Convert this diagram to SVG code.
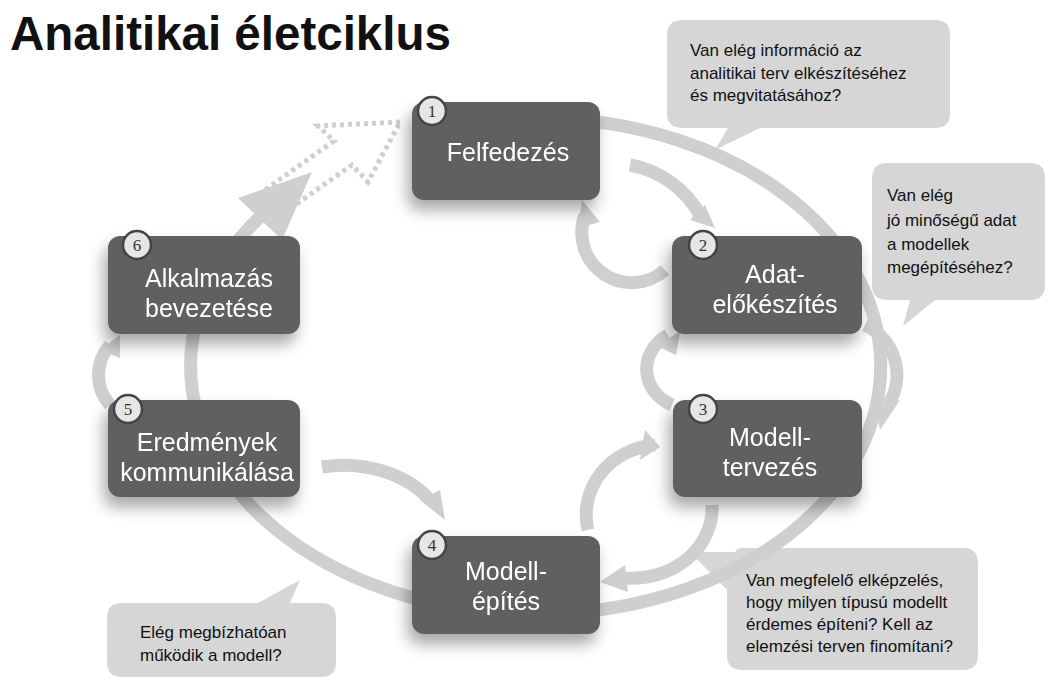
<svg xmlns="http://www.w3.org/2000/svg" width="1056" height="693" viewBox="0 0 1056 693">
<defs>
<style>
.node rect.b{fill:#606060;rx:12px}
.node text.t{fill:#fff;font-family:"Liberation Sans",Arial,sans-serif;font-size:25px;text-anchor:middle}
.num circle{fill:#e6e6e6;stroke:#444;stroke-width:2.5}
.num text{font-family:"Liberation Serif",serif;font-size:17px;text-anchor:middle;fill:#333}
.call{fill:#d6d6d6}
.ct{font-family:"Liberation Sans",Arial,sans-serif;font-size:17px;fill:#111}
.arc{fill:none;stroke:#cfcfcf;stroke-width:13}
.ah{fill:#cfcfcf}
</style>
<filter id="sh" x="-20%" y="-20%" width="150%" height="160%"><feGaussianBlur in="SourceAlpha" stdDeviation="8"/><feOffset dx="-4" dy="10"/><feComponentTransfer><feFuncA type="linear" slope="0.35"/></feComponentTransfer><feMerge><feMergeNode/><feMergeNode in="SourceGraphic"/></feMerge></filter>
</defs>
<rect width="1056" height="693" fill="#fff"/>
<text x="10" y="50" font-family="Liberation Sans,Arial,sans-serif" font-size="47.5" font-weight="bold" fill="#111">Analitikai életciklus</text>
<g id="callouts">
<path class="call" d="M683,20 H935 Q950,20 950,35 V113 Q950,128 935,128 H760 L715,150 L728,128 H683 Q667,128 667,113 V35 Q667,20 683,20 Z"/>
<text class="ct" x="690" y="56">Van elég információ az</text>
<text class="ct" x="690" y="79">analitikai terv elkészítéséhez</text>
<text class="ct" x="690" y="101">és megvitatásához?</text>
<path class="call" d="M888,163 H1030 Q1045,163 1045,178 V285 Q1045,300 1030,300 H935 L903,326 L910,300 H888 Q872,300 872,285 V178 Q872,163 888,163 Z"/>
<text class="ct" x="887" y="201">Van elég</text>
<text class="ct" x="887" y="226">jó minőségű adat</text>
<text class="ct" x="887" y="250">a modellek</text>
<text class="ct" x="887" y="273">megépítéséhez?</text>
<path class="call" d="M742,548 H963 Q978,548 978,563 V655 Q978,670 963,670 H742 Q727,670 727,655 V590 L690,552 L735,552 Q737,548 742,548 Z"/>
<text class="ct" x="746" y="586">Van megfelelő elképzelés,</text>
<text class="ct" x="746" y="608">hogy milyen típusú modellt</text>
<text class="ct" x="746" y="630">érdemes építeni? Kell az</text>
<text class="ct" x="746" y="652">elemzési terven finomítani?</text>
<path class="call" d="M122,603 H258 L300,580 L290,603 H321 Q336,603 336,618 V662 Q336,677 321,677 H122 Q107,677 107,662 V618 Q107,603 122,603 Z"/>
<text class="ct" x="140" y="638">Elég megbízhatóan</text>
<text class="ct" x="140" y="661">működik a modell?</text>
</g>
<g id="connectors">
<path class="arc" stroke-width="22" d="M535,118 A345,248 0 1 1 262,215" />
<path class="ah" d="M238,198 L312,172 L282,240 Z"/>
<path d="M400,122 L318,126 L334,141 L262,192 L282,214 L352,165 L368,182 Z" fill="none" stroke="#cfcfcf" stroke-width="5" stroke-dasharray="4,4"/>
<path class="arc" d="M585,215 A50,50 0 0 0 665,270"/>
<path class="ah" d="M578,228 L582,200 L600,222 Z"/>
<path class="arc" d="M630,165 A100,100 0 0 1 700,215"/>
<path class="ah" d="M690,220 L715,228 L705,205 Z"/>
<path class="arc" d="M668,335 A45,40 0 0 0 672,405"/>
<path class="ah" d="M655,345 L680,332 L676,355 Z"/>
<path class="arc" d="M865,325 A55,55 0 0 1 888,405"/>
<path class="ah" d="M875,405 L900,400 L880,430 Z"/>
<path class="arc" d="M655,445 A75,70 0 0 0 588,530"/>
<path class="ah" d="M645,430 L660,447 L640,460 Z"/>
<path class="arc" d="M712,505 A80,70 0 0 1 625,578"/>
<path class="ah" d="M625,565 L600,582 L628,592 Z"/>
<path class="arc" d="M322,467 A105,80 0 0 1 430,500"/>
<path class="ah" d="M420,500 L445,520 L440,490 Z"/>
<path class="arc" d="M110,405 A45,45 0 0 1 110,345"/>
<path class="ah" d="M100,350 L120,335 L120,358 Z"/>
</g>
<g id="n1" class="node" filter="url(#sh)"><rect class="b" x="412" y="102" width="188" height="98"/><text class="t" x="508" y="161">Felfedezés</text></g>
<g id="n2" class="node" filter="url(#sh)"><rect class="b" x="672" y="236" width="190" height="98"/><text class="t" x="775" y="283">Adat-</text><text class="t" x="775" y="313">előkészítés</text></g>
<g id="n3" class="node" filter="url(#sh)"><rect class="b" x="673" y="400" width="189" height="97"/><text class="t" x="770" y="446">Modell-</text><text class="t" x="770" y="476">tervezés</text></g>
<g id="n4" class="node" filter="url(#sh)"><rect class="b" x="412" y="536" width="188" height="98"/><text class="t" x="506" y="580">Modell-</text><text class="t" x="506" y="610">építés</text></g>
<g id="n5" class="node" filter="url(#sh)"><rect class="b" x="108" y="400" width="192" height="97"/><text class="t" x="207" y="451">Eredmények</text><text class="t" x="207" y="481">kommunikálása</text></g>
<g id="n6" class="node" filter="url(#sh)"><rect class="b" x="108" y="236" width="192" height="98"/><text class="t" x="209" y="287">Alkalmazás</text><text class="t" x="209" y="317">bevezetése</text></g>
<g class="num"><circle cx="432" cy="111" r="14"/><text x="432" y="117">1</text>
<circle cx="703" cy="245" r="14"/><text x="703" y="251">2</text>
<circle cx="703" cy="409" r="14"/><text x="703" y="415">3</text>
<circle cx="432" cy="545" r="14"/><text x="432" y="551">4</text>
<circle cx="128" cy="409" r="14"/><text x="128" y="415">5</text>
<circle cx="137" cy="245" r="14"/><text x="137" y="251">6</text></g>
</svg>
